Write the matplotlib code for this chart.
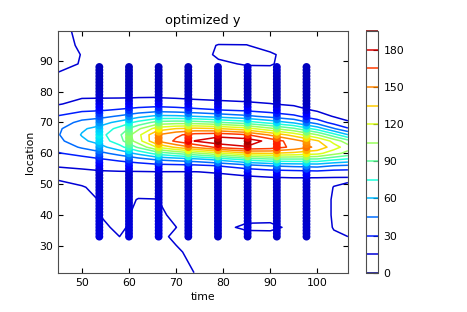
import numpy as np
import matplotlib
matplotlib.use("Agg")
import matplotlib.pyplot as plt

# grid of the optimized field
times = [45, 50, 54, 58, 62, 66, 70, 74, 79, 85, 90, 95, 100, 103.5, 106.5]
locations = [21.3, 28, 33, 36, 40, 45, 49, 52, 54, 56, 58, 60, 62, 64, 66, 68,
             70, 72, 74, 76, 78, 81, 85, 89, 92, 95, 99.6]

# one row per location, one value per time
field = [
    [18, 18, 18, 18, 18, 17.5, 17, 14.9, 12, 11.5, 11.5, 11.5, 11.5, 12, 12],
    [18, 18, 17.5, 17, 17.5, 17, 15.8, 13.5, 12.5, 12, 12, 12, 12, 13, 13],
    [18, 18, 16.5, 15.0, 17, 16.5, 14, 13, 12.5, 13, 13, 12.5, 13, 14.5, 15.0],
    [18, 18, 15.8, 14.2, 16.5, 16.5, 15.05, 12.5, 13.5, 16, 16.2, 13.8, 13, 15.2, 16],
    [18, 17.5, 14.9, 13.8, 16, 16, 14, 12.5, 12.5, 13, 13, 12.5, 13, 15.4, 17],
    [17.5, 17, 14.6, 13.5, 15.2, 15.1, 13, 12, 12, 12, 12, 12.5, 13, 15.4, 17],
    [17, 15.4, 13.5, 12.5, 13, 13, 12.5, 12, 11.5, 12, 12.5, 13, 13, 15.1, 16],
    [14.3, 13, 13, 12.5, 12.3, 12.3, 12.1, 11.5, 11.8, 12.5, 13.8, 14.7, 14.5, 14.1, 14.0],
    [13.0, 13.1, 14, 14.4, 14.5, 14.8, 14.7, 14.8, 16, 19.9, 23.3, 25, 26.6, 24.3, 23.8],
    [15.6, 17.2, 19.3, 21, 22.5, 24.9, 25.6, 26.6, 30.7, 39.5, 45.9, 48.7, 50.3, 45.1, 43.2],
    [22, 24.4, 28.4, 33.1, 38.9, 46.7, 50.5, 54.5, 64, 79.3, 86, 87, 86.7, 77.4, 71.9],
    [29, 34.8, 41.3, 50.3, 63.9, 81.2, 91.7, 101.3, 116, 133.3, 135.3, 130.8, 124.6, 110.6, 100],
    [35.5, 47, 55.3, 69.7, 92.6, 121.1, 138, 152.8, 168.8, 178.7, 174, 161, 146.5, 126.9, 112],
    [41, 56.9, 66.3, 84.3, 113.1, 151, 168, 180.5, 190, 188.7, 175, 157, 137, 114.7, 95.7],
    [44, 61, 70, 87.7, 115.7, 150, 162, 170.9, 174.2, 166.4, 147.8, 129, 105.2, 81, 60.8],
    [42.5, 58, 65.2, 79.8, 102.4, 127, 135.3, 138.6, 136, 125.7, 108.8, 92.4, 68.5, 46.3, 31.6],
    [37, 49.4, 54.3, 64.4, 80.1, 95.6, 98.2, 97.2, 91.4, 82.4, 69.8, 57.6, 38.4, 24.3, 16.4],
    [31, 38.1, 41, 46.7, 55.4, 63.6, 62.8, 59.8, 54.6, 48.3, 40.5, 33, 21.3, 14.2, 11.3],
    [22, 27.6, 28.9, 31.7, 35.7, 38.9, 37, 34.1, 30.7, 27.5, 23.4, 19.5, 13.5, 10.5, 10],
    [14, 19.5, 20.1, 21, 22.3, 23.1, 21.7, 19.7, 18.1, 16.7, 15.3, 13.3, 10.5, 10, 10],
    [12, 14.5, 14.7, 14.8, 15.1, 15.2, 14.4, 13.4, 12.7, 12.1, 11.5, 11, 10, 10, 10],
    [12, 11, 11.2, 11.1, 11.1, 11, 10.8, 10.5, 10.5, 10.5, 10.5, 10.5, 10, 10, 10],
    [14, 11, 10, 10, 10, 10, 10, 10.5, 11.5, 11.5, 11.5, 10.5, 10, 10, 10],
    [17, 14.6, 10, 10, 10, 10, 10, 11, 14, 15.5, 15.6, 12, 10, 10, 10],
    [19, 14.7, 10, 10, 10, 10, 10, 12, 16, 17.5, 16, 12, 10, 10, 10],
    [20, 13, 10, 10, 10, 10, 10, 12.5, 15.3, 15.2, 12.5, 10.5, 10, 10, 10],
    [20, 11, 10, 10, 10, 10, 10, 10.5, 10.5, 10.5, 10.5, 10, 10, 10, 10],
]

levels = [0, 15, 30, 45, 60, 75, 90, 105, 120, 135, 150, 165, 180, 195]

# sensor sampling points
sensor_times = [53.7, 60.0, 66.3, 72.6, 78.9, 85.2, 91.4, 97.7]
sensor_locs = [33, 34, 35, 36, 37, 38, 39, 40, 41, 42, 43, 44, 45, 46, 47, 48,
               49, 50, 51, 52, 53, 54, 55, 56, 57, 58, 59, 60, 61, 62, 63, 64,
               65, 66, 67, 68, 69, 70, 71, 72, 73, 74, 75, 76, 77, 78, 79, 80,
               81, 82, 83, 84, 85, 86, 87, 88]


def field_at(t, locs):
    # colour of a sensor point = value of the field there
    column = [np.interp(t, times, row) for row in field]
    return np.interp(locs, locations, column)


plt.rcParams["font.family"] = "DejaVu Sans"
plt.rcParams["font.size"] = 7.8
plt.rcParams["xtick.direction"] = "in"
plt.rcParams["ytick.direction"] = "in"
plt.rcParams["xtick.top"] = True
plt.rcParams["ytick.right"] = True
plt.rcParams["xtick.major.size"] = 3.5
plt.rcParams["ytick.major.size"] = 3.5
plt.rcParams["xtick.major.pad"] = 4
plt.rcParams["ytick.major.pad"] = 4

fig = plt.figure(figsize=(4.67, 3.12), dpi=100, facecolor="white")
ax = fig.add_axes([0.125, 0.126, 0.62, 0.774])
cax = fig.add_axes([0.783, 0.126, 0.026, 0.774])

cs = ax.contour(times, locations, np.array(field), levels=levels,
                cmap="jet", linewidths=1.1)
cs.set_clim(0, 195)

for t in sensor_times:
    ax.scatter([t] * len(sensor_locs), sensor_locs, c=field_at(t, sensor_locs),
               cmap="jet", vmin=0, vmax=195, s=32, edgecolors="none", zorder=3)

ax.set_xlim(times[0], times[-1])
ax.set_ylim(locations[0], locations[-1])
ax.set_title("optimized y", fontsize=9.3, pad=5)
ax.set_xlabel("time", labelpad=3)
ax.set_ylabel("location", labelpad=3)
for sp in ax.spines.values():
    sp.set_edgecolor("0.3")

cb = fig.colorbar(cs, cax=cax)
cb.outline.set_edgecolor("0.3")
cax.tick_params(direction="in", length=3.5)

fig.savefig("out.png", dpi=100, facecolor="white")
